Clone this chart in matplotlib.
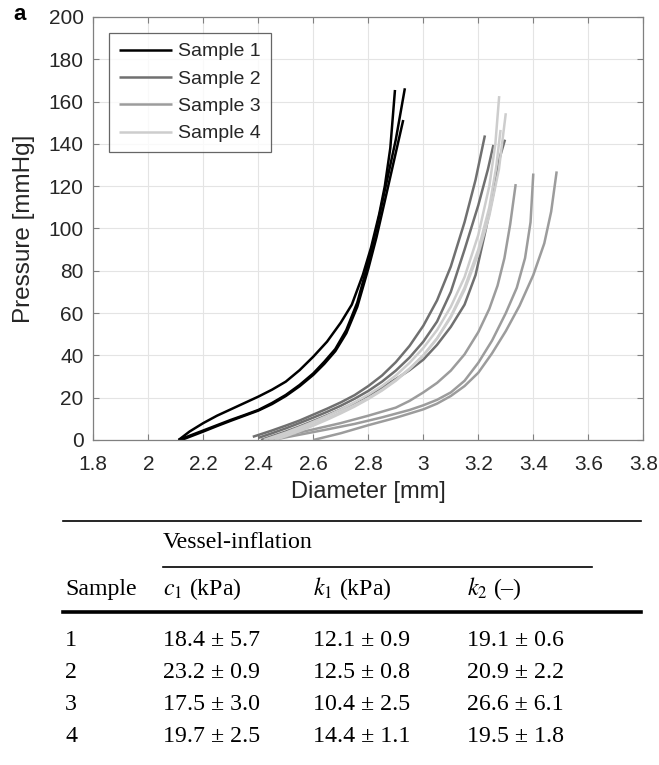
import matplotlib
matplotlib.use('Agg')
import matplotlib.pyplot as plt
from matplotlib.lines import Line2D

plt.rcParams['font.family'] = ['Liberation Sans', 'DejaVu Sans']
plt.rcParams['mathtext.fontset'] = 'stix'

# curvas presion-diametro (diametro en mm, presion en mmHg)
s1_a_d = [2.11, 2.15, 2.2, 2.25, 2.3, 2.35, 2.4, 2.45, 2.5, 2.55, 2.6, 2.65, 2.7, 2.74, 2.78, 2.81, 2.84, 2.86, 2.88, 2.897]
s1_a_p = [0, 4, 8, 11.5, 14.5, 17.5, 20.5, 23.8, 27.6, 33, 39.4, 46.5, 55.5, 64, 78, 91, 107, 120, 138, 165.5]
s1_b_d = [2.11, 2.15, 2.2, 2.25, 2.3, 2.35, 2.4, 2.45, 2.5, 2.55, 2.6, 2.64, 2.68, 2.72, 2.76, 2.8, 2.83, 2.86, 2.9, 2.933]
s1_b_p = [0, 2, 4.5, 7, 9.5, 11.8, 14.2, 17.5, 21.3, 26, 31.5, 37, 43, 52, 65, 84, 100, 118, 142, 166.3]
s1_c_d = [2.12, 2.16, 2.2, 2.25, 2.3, 2.35, 2.4, 2.45, 2.5, 2.55, 2.6, 2.64, 2.68, 2.72, 2.76, 2.8, 2.83, 2.86, 2.895, 2.927]
s1_c_p = [0, 2, 4, 6.6, 9.1, 11.5, 13.9, 17, 20.8, 25.4, 30.8, 36, 42, 50.5, 63, 81, 96, 113, 133, 151.3]

s2_a_d = [2.38, 2.45, 2.5, 2.55, 2.6, 2.65, 2.7, 2.75, 2.8, 2.85, 2.9, 2.95, 3.0, 3.05, 3.1, 3.15, 3.19, 3.224]
s2_a_p = [1.5, 4.5, 6.8, 9.2, 12, 14.8, 17.8, 21.2, 25.5, 30.5, 36.8, 44.5, 54, 66, 82, 103, 123, 144]
s2_b_d = [2.40, 2.45, 2.5, 2.55, 2.6, 2.65, 2.7, 2.75, 2.8, 2.85, 2.9, 2.95, 3.0, 3.05, 3.1, 3.15, 3.2, 3.235, 3.255]
s2_b_p = [1, 3.2, 5.5, 8, 10.6, 13.3, 16.2, 19.5, 23.2, 27.6, 32.8, 39, 46.5, 56, 70, 90, 111, 128, 139.5]
s2_c_d = [2.41, 2.45, 2.5, 2.55, 2.6, 2.65, 2.7, 2.75, 2.8, 2.85, 2.9, 2.95, 3.0, 3.05, 3.1, 3.15, 3.19, 3.224, 3.255, 3.279, 3.297]
s2_c_p = [0, 1.8, 4, 6.4, 9, 11.7, 14.5, 17.6, 21, 24.8, 28.8, 33, 38, 45, 53.5, 64, 78, 97.7, 116.6, 134, 142]

s3_a_d = [2.42, 2.5, 2.6, 2.7, 2.8, 2.9, 2.95, 3.0, 3.05, 3.1, 3.15, 3.2, 3.24, 3.27, 3.295, 3.316, 3.336]
s3_a_p = [0, 2.2, 5, 8, 11.5, 15.3, 18.5, 22.5, 27, 32.8, 40.5, 51, 62, 73, 86, 102, 121]
s3_b_d = [2.45, 2.55, 2.65, 2.75, 2.85, 2.95, 3.0, 3.05, 3.1, 3.15, 3.2, 3.25, 3.3, 3.34, 3.37, 3.39, 3.40]
s3_b_p = [0, 2.5, 5, 7.6, 10.7, 14.2, 16.4, 19, 22.5, 28, 36.5, 47, 60, 72, 86, 103, 126]
s3_c_d = [2.60, 2.7, 2.8, 2.9, 3.0, 3.05, 3.1, 3.15, 3.2, 3.25, 3.3, 3.35, 3.4, 3.44, 3.465, 3.485]
s3_c_p = [0, 3.2, 7, 10.5, 14.5, 17.2, 20.8, 25.5, 31.8, 41, 51.5, 63.5, 78, 93, 108, 127]

s4_a_d = [2.42, 2.5, 2.55, 2.6, 2.65, 2.7, 2.75, 2.8, 2.85, 2.9, 2.95, 3.0, 3.05, 3.1, 3.15, 3.2, 3.24, 3.262, 3.276]
s4_a_p = [0, 3.5, 6, 8.6, 11.4, 14.4, 17.8, 21.5, 25.6, 30.5, 36.5, 43.5, 52, 63, 77, 97, 120, 140, 162.6]
s4_b_d = [2.44, 2.5, 2.55, 2.6, 2.65, 2.7, 2.75, 2.8, 2.85, 2.9, 2.95, 3.0, 3.05, 3.1, 3.15, 3.2, 3.24, 3.275, 3.30]
s4_b_p = [0, 2.6, 5, 7.5, 10.2, 13.1, 16.3, 19.8, 23.8, 28.4, 33.8, 40, 48, 58, 71, 88, 106, 128, 154.5]
s4_c_d = [2.46, 2.5, 2.55, 2.6, 2.65, 2.7, 2.75, 2.8, 2.85, 2.9, 2.95, 3.0, 3.05, 3.1, 3.15, 3.2, 3.24, 3.265, 3.281]
s4_c_p = [0, 1.8, 4.2, 6.8, 9.6, 12.6, 15.8, 19.4, 23.4, 28, 33.5, 40, 48, 58.5, 72, 90, 110, 129, 146.6]

muestras = ['Sample 1', 'Sample 2', 'Sample 3', 'Sample 4']
colores = ['#000000', '#707070', '#9c9c9c', '#cdcdcd']
curvas = [
    [(s1_a_d, s1_a_p), (s1_b_d, s1_b_p), (s1_c_d, s1_c_p)],
    [(s2_a_d, s2_a_p), (s2_b_d, s2_b_p), (s2_c_d, s2_c_p)],
    [(s3_a_d, s3_a_p), (s3_b_d, s3_b_p), (s3_c_d, s3_c_p)],
    [(s4_a_d, s4_a_p), (s4_b_d, s4_b_p), (s4_c_d, s4_c_p)],
]

# tabla de parametros
filas = ['1', '2', '3', '4']
c1_media = [18.4, 23.2, 17.5, 19.7]
c1_sd = [5.7, 0.9, 3.0, 2.5]
k1_media = [12.1, 12.5, 10.4, 14.4]
k1_sd = [0.9, 0.8, 2.5, 1.1]
k2_media = [19.1, 20.9, 26.6, 19.5]
k2_sd = [0.6, 2.2, 6.1, 1.8]
encabezados = ['Sample', '$c_1$ (kPa)', '$k_1$ (kPa)', '$k_2$ (\u2013)']

W, H = 659, 765
fig = plt.figure(figsize=(W / 100, H / 100), dpi=100)

# 1: grafico
ax = fig.add_axes([93.3 / W, 1 - 440 / H, 550 / W, 423 / H])
for muestra, color, grupo in zip(muestras, colores, curvas):
    for i, (d, p) in enumerate(grupo):
        ax.plot(d, p, color=color, lw=1.8, solid_capstyle='butt', solid_joinstyle='round',
                label=muestra if i == 0 else None)

ax.set_xlim(1.8, 3.8)
ax.set_ylim(0, 200)
ax.set_xticks([1.8 + 0.2 * i for i in range(11)])
ax.set_xticklabels(['1.8', '2', '2.2', '2.4', '2.6', '2.8', '3', '3.2', '3.4', '3.6', '3.8'])
ax.set_yticks(range(0, 201, 20))
ax.grid(True, color='#e4e4e4', lw=0.8)
ax.set_axisbelow(True)
for sp in ax.spines.values():
    sp.set_color('#808080')
    sp.set_linewidth(0.9)
ax.tick_params(direction='in', length=4, width=0.8, color='#808080',
               top=True, right=True, labelsize=15, labelcolor='#262626')
ax.tick_params(axis='x', pad=11)
ax.tick_params(axis='y', pad=7)
ax.set_xlabel('Diameter [mm]', fontsize=17, color='#262626', labelpad=5)
ax.set_ylabel('Pressure [mmHg]', fontsize=17.5, color='#262626', labelpad=10)

leg = ax.legend(loc='upper left', bbox_to_anchor=(16 / 550, 1 - 16 / 423), fontsize=14,
                frameon=True, fancybox=False, handlelength=2.75, handletextpad=0.3,
                labelspacing=0.5, borderpad=0.5, borderaxespad=0)
leg.get_frame().set_edgecolor('#404040')
leg.get_frame().set_linewidth(0.9)
for t in leg.get_texts():
    t.set_color('#262626')

fig.text(13 / W, 1 - 15 / H, 'a', fontsize=16, fontweight='bold', va='center', ha='left')

# 2: tabla
tab = fig.add_axes([0, 0, 1, 1], zorder=-1)
tab.set_xlim(0, W)
tab.set_ylim(H, 0)
tab.axis('off')

serif = ['Liberation Serif', 'DejaVu Serif']
col_x = [65, 163, 313, 467]
y_filas = [640, 672, 704, 736]
fs = 17.2

tab.add_line(Line2D([63, 641], [521, 521], color='black', lw=1.2))
tab.add_line(Line2D([163, 592], [567, 567], color='black', lw=1.2))
tab.add_line(Line2D([63, 641], [612, 612], color='black', lw=2.6))
tab.text(col_x[1], 543, 'Vessel-inflation', family=serif, fontsize=fs, va='center')
for x, h in zip(col_x, encabezados):
    tab.text(x, 589, h, family=serif, fontsize=fs, va='center')

for j, y in enumerate(y_filas):
    tab.text(col_x[0], y, filas[j], family=serif, fontsize=fs, va='center')
    tab.text(col_x[1], y, '%.1f \u00b1 %.1f' % (c1_media[j], c1_sd[j]), family=serif, fontsize=fs, va='center')
    tab.text(col_x[2], y, '%.1f \u00b1 %.1f' % (k1_media[j], k1_sd[j]), family=serif, fontsize=fs, va='center')
    tab.text(col_x[3], y, '%.1f \u00b1 %.1f' % (k2_media[j], k2_sd[j]), family=serif, fontsize=fs, va='center')

plt.savefig('out.png', dpi=100)
plt.close('all')
